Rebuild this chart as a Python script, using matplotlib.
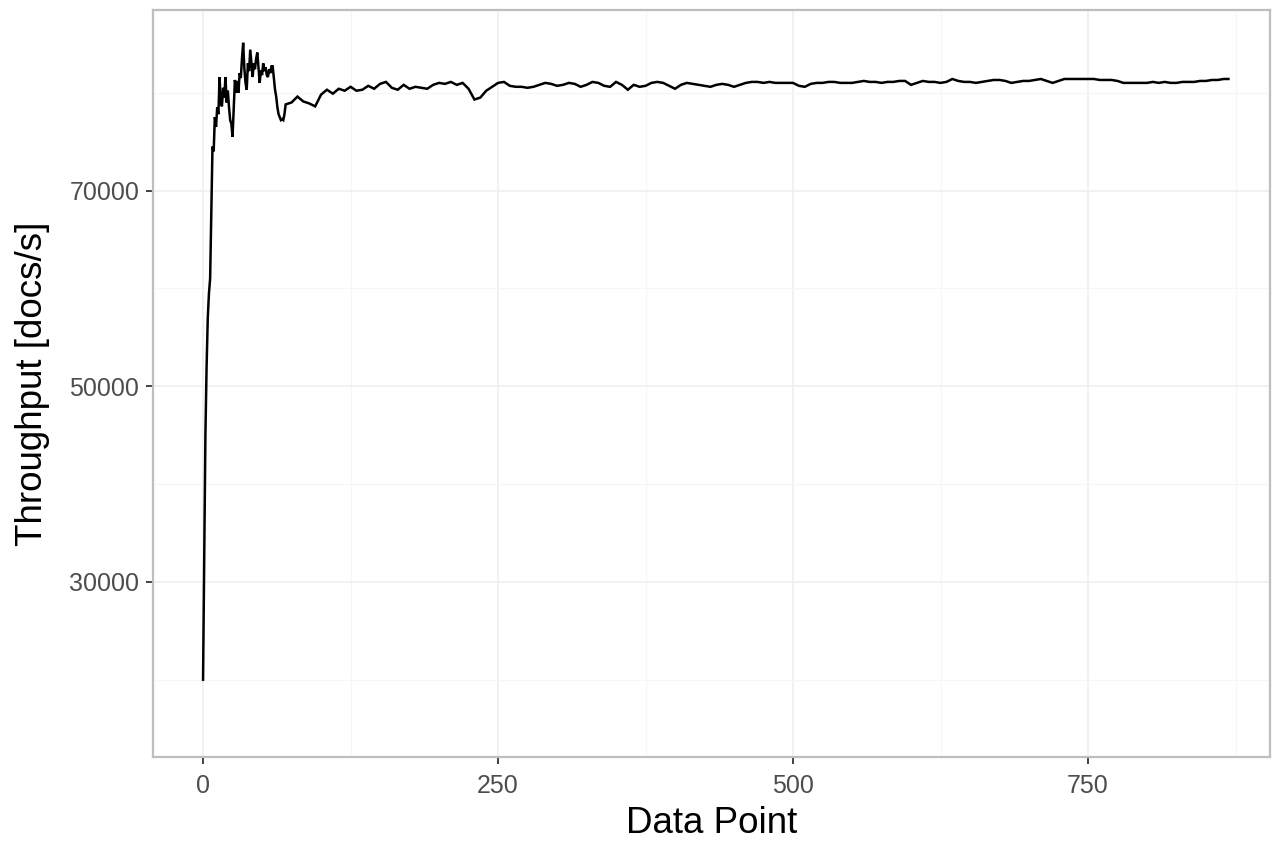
import matplotlib
matplotlib.use("Agg")
import matplotlib.pyplot as plt
from matplotlib.ticker import FixedLocator

# data point index and throughput (docs/s)
warmup_x = list(range(0, 71))
warmup_y = [
    20000, 33000, 45000, 52000, 57000, 59500, 61000, 68000, 74500, 74000,
    77500, 76500, 78500, 77800, 81600, 79000, 78600, 80500, 79500, 81600,
    79000, 80200, 78500, 77200, 76800, 75500, 78500, 81300, 80000, 81200,
    80000, 82000, 81500, 83500, 85100, 82500, 81000, 80300, 83000, 82200,
    84400, 83000, 81600, 83000, 82400, 83500, 84100, 82500, 81000, 82300,
    81800, 83000, 82200, 82600, 81800, 81600, 82400, 82000, 82700, 82700,
    81500, 80300, 79600, 78500, 77800, 77500, 77200, 77300, 77200, 77800,
    78800,
]

steady_x = list(range(75, 870, 5)) + [869]
steady_y = [
    79000, 79600, 79100, 78900, 78600, 79800, 80300, 79900, 80400, 80200,
    80600, 80200, 80300, 80700, 80400, 80900, 81100, 80500, 80300, 80800,
    80400, 80600, 80500, 80400, 80800, 81000, 80900, 81100, 80800, 81000,
    80400, 79300, 79500, 80200, 80600, 81000, 81100, 80700, 80600, 80600,
    80500, 80600, 80800, 81000, 80900, 80700, 80800, 81000, 80900, 80600,
    80800, 81100, 81000, 80700, 80600, 81100, 80800, 80300, 80800, 80600,
    80700, 81000, 81100, 81000, 80700, 80400, 80800, 81000, 80900, 80800,
    80700, 80600, 80800, 80900, 80800, 80600, 80800, 81000, 81100, 81100,
    81000, 81100, 81000, 81000, 81000, 81000, 80700, 80600, 80900, 81000,
    81000, 81100, 81100, 81000, 81000, 81000, 81100, 81200, 81100, 81100,
    81000, 81100, 81100, 81200, 81200, 80800, 81000, 81200, 81100, 81100,
    81000, 81100, 81400, 81200, 81100, 81100, 81000, 81100, 81200, 81300,
    81300, 81200, 81000, 81100, 81200, 81200, 81300, 81400, 81200, 81000,
    81200, 81400, 81400, 81400, 81400, 81400, 81400, 81300, 81300, 81300,
    81200, 81000, 81000, 81000, 81000, 81000, 81100, 81000, 81100, 81000,
    81000, 81100, 81100, 81100, 81200, 81200, 81300, 81300, 81400, 81400,
]

x = warmup_x + steady_x
y = warmup_y + steady_y

x_ticks = [0, 250, 500, 750]
x_minor = [125, 375, 625, 875]
y_ticks = [30000, 50000, 70000]
y_minor = [20000, 40000, 60000, 80000]

plt.rcParams["font.family"] = ["Liberation Sans", "DejaVu Sans"]

fig = plt.figure(figsize=(12.72, 8.41), dpi=100)
ax = fig.add_axes([0.1203, 0.0999, 0.8781, 0.8882])

ax.plot(x, y, color="black", lw=1.8, solid_joinstyle="miter", zorder=3)

ax.set_xlim(-42.4, 904.2)
ax.set_ylim(12100, 88450)

ax.xaxis.set_major_locator(FixedLocator(x_ticks))
ax.xaxis.set_minor_locator(FixedLocator(x_minor))
ax.yaxis.set_major_locator(FixedLocator(y_ticks))
ax.yaxis.set_minor_locator(FixedLocator(y_minor))
ax.set_xticklabels([str(v) for v in x_ticks])
ax.set_yticklabels([str(v) for v in y_ticks])

ax.grid(which="major", color="#EEEEEE", lw=1.1, zorder=0)
ax.grid(which="minor", color="#F6F6F6", lw=0.8, zorder=0)
ax.set_axisbelow(True)

for sp in ax.spines.values():
    sp.set_color("#BEBEBE")
    sp.set_linewidth(1.6)

ax.tick_params(which="major", length=5, width=1.3, color="#333333",
               labelsize=18, labelcolor="#4D4D4D")
ax.tick_params(axis="x", which="major", pad=7)
ax.tick_params(axis="y", which="major", pad=5)
ax.tick_params(which="minor", length=0)

ax.set_xlabel("Data Point", fontsize=26.5, labelpad=6)
ax.set_ylabel("Throughput [docs/s]", fontsize=26.5, labelpad=14)

fig.savefig("out.png", dpi=100)
